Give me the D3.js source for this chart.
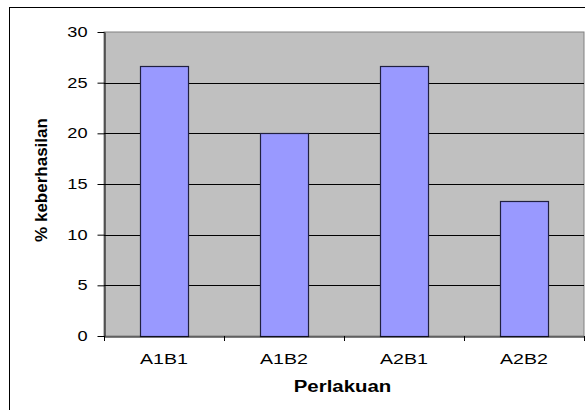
<!DOCTYPE html>
<html>
<head>
<meta charset="utf-8">
<script src="https://cdn.jsdelivr.net/npm/d3@7"></script>
<style>
  body { margin: 0; background: #fff; }
  text { font-family: "Liberation Sans", Arial, sans-serif; }
</style>
</head>
<body>
<div id="chart"></div>
<script>
// data
const categories = ["A1B1", "A1B2", "A2B1", "A2B2"];
const values = [26.67, 20, 26.67, 13.33];
const yTicks = [0, 5, 10, 15, 20, 25, 30];

const W = 585, H = 410;
const plot = { left: 104, top: 32, right: 584, bottom: 336 };

// excel text looks stretched sideways, so widen glyphs around their anchor
function stretch(sel, sx) {
    sel.each(function() {
        const t = d3.select(this);
        const tx = +t.attr("x") || 0, ty = +t.attr("y") || 0;
        t.attr("x", 0).attr("y", 0)
            .attr("transform", "translate(" + tx + "," + ty + ") scale(" + sx + ",1)");
    });
}

const svg = d3.select("#chart").append("svg")
    .attr("width", W)
    .attr("height", H);

// outer chart border
svg.append("rect")
    .attr("x", 9.5).attr("y", 7.5)
    .attr("width", 600).attr("height", 420)
    .attr("fill", "#fff")
    .attr("stroke", "#000")
    .attr("stroke-width", 1);

const x = d3.scaleBand()
    .domain(categories)
    .range([plot.left, plot.right])
    .paddingInner(0);

const y = d3.scaleLinear()
    .domain([0, 30])
    .range([plot.bottom, plot.top]);

// plot area
svg.append("rect")
    .attr("x", plot.left).attr("y", plot.top)
    .attr("width", plot.right - plot.left)
    .attr("height", plot.bottom - plot.top)
    .attr("fill", "#c0c0c0")
    .attr("stroke", "#808080")
    .attr("stroke-width", 1);

// gridlines
svg.append("g")
    .selectAll("line")
    .data(yTicks.filter(d => d > 0 && d < 30))
    .enter().append("line")
    .attr("x1", plot.left).attr("x2", plot.right)
    .attr("y1", d => Math.round(y(d)) + 0.5)
    .attr("y2", d => Math.round(y(d)) + 0.5)
    .attr("stroke", "#000")
    .attr("stroke-width", 1);

// bars - width 48 out of 120 (excel gap 150%)
const barW = x.bandwidth() / 2.5;
svg.append("g")
    .selectAll("rect")
    .data(values)
    .enter().append("rect")
    .attr("x", (d, i) => Math.round(x(categories[i]) + (x.bandwidth() - barW) / 2) + 0.5)
    .attr("y", d => Math.round(y(d)) + 0.5)
    .attr("width", barW)
    .attr("height", d => Math.round(y(0)) - Math.round(y(d)))
    .attr("fill", "#9999ff")
    .attr("stroke", "#202040")
    .attr("stroke-width", 1.2);

// y axis
const yAxis = svg.append("g")
    .attr("transform", "translate(" + (plot.left + 0.5) + ",0)")
    .call(d3.axisLeft(y).tickValues(yTicks).tickSize(7).tickPadding(10).tickSizeOuter(0));
yAxis.select(".domain").attr("stroke", "#000");
yAxis.selectAll("line").attr("stroke", "#000");
yAxis.selectAll("text")
    .style("font-size", "14px")
    .attr("fill", "#000")
    .call(stretch, 1.3);

// x axis
const xAxis = svg.append("g")
    .attr("transform", "translate(0," + (plot.bottom + 0.5) + ")")
    .call(d3.axisBottom(x).tickSize(0).tickPadding(18).tickSizeOuter(0));
xAxis.select(".domain").attr("stroke", "#000");
xAxis.selectAll("text")
    .style("font-size", "14px")
    .attr("fill", "#000")
    .call(stretch, 1.4);

// x ticks at band edges
svg.append("g")
    .selectAll("line")
    .data(categories.concat([null]))
    .enter().append("line")
    .attr("x1", (d, i) => Math.round(plot.left + i * x.step()) + 0.5)
    .attr("x2", (d, i) => Math.round(plot.left + i * x.step()) + 0.5)
    .attr("y1", plot.bottom)
    .attr("y2", plot.bottom + 5)
    .attr("stroke", "#000");

// axis titles
svg.append("text")
    .attr("x", 342.5)
    .attr("y", 392)
    .attr("text-anchor", "middle")
    .style("font-size", "17px")
    .style("font-weight", "bold")
    .text("Perlakuan")
    .call(stretch, 1.2);

svg.append("text")
    .attr("transform", "translate(47," + ((plot.top + plot.bottom) / 2 - 4) + ") rotate(-90)")
    .attr("text-anchor", "middle")
    .style("font-size", "17px")
    .style("font-weight", "bold")
    .text("% keberhasilan");
</script>
</body>
</html>
